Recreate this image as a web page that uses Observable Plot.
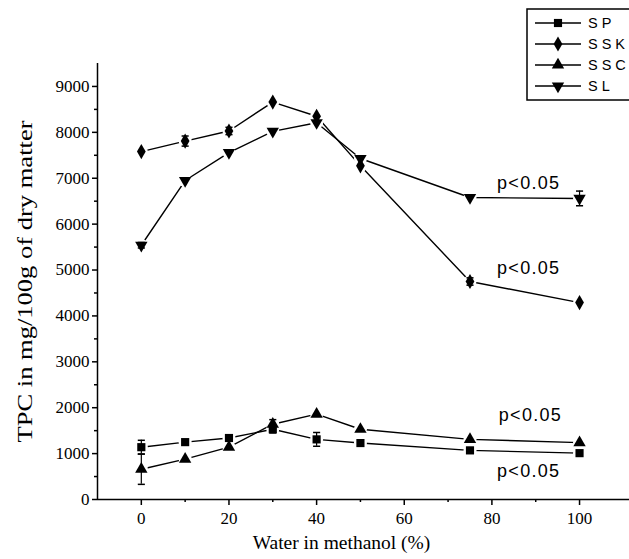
<!DOCTYPE html>
<html><head><meta charset="utf-8">
<script src="https://cdn.jsdelivr.net/npm/d3@7"></script>
<script src="https://cdn.jsdelivr.net/npm/@observablehq/plot@0.6"></script>
<style>body{margin:0;background:#fff;} #chart{position:relative;width:629px;height:559px;}
svg g[aria-label*="axis"], svg g[aria-label*="axis"] text, svg g.tick text { font-family: "Liberation Serif", "Times New Roman", serif !important; font-size: 17px !important; font-variant: normal !important; }
</style>
</head><body><div id="chart"></div>
<script>
const water = [0, 10, 20, 30, 40, 50, 75, 100];
const SP  = [1140, 1250, 1340, 1530, 1310, 1230, 1070, 1010];
const SSK = [7580, 7810, 8030, 8660, 8350, 7270, 4750, 4290];
const SSC = [660, 880, 1140, 1640, 1860, 1530, 1310, 1240];
const SL  = [5540, 6950, 7560, 8020, 8210, 7430, 6580, 6560];
const SP_err  = [150, 0, 60, 80, 150, 0, 60, 0];
const SSK_err = [0, 110, 80, 0, 0, 0, 80, 0];
const SSC_err = [330, 0, 0, 100, 0, 0, 0, 0];
const SL_err  = [60, 0, 0, 0, 0, 0, 0, 160];
const seriesNames = ["SP", "SSK", "SSC", "SL"];
const xTicks = [0, 20, 40, 60, 80, 100];
const xMinor = [10, 30, 50, 70, 90];
const yTicks = [0, 1000, 2000, 3000, 4000, 5000, 6000, 7000, 8000, 9000];
const yMinor = [500, 1500, 2500, 3500, 4500, 5500, 6500, 7500, 8500];
const pLabels = [
  {x: 88.4, y: 6900, text: "p<0.05"},
  {x: 88.4, y: 5030, text: "p<0.05"},
  {x: 88.8, y: 1830, text: "p<0.05"},
  {x: 88.4, y: 620, text: "p<0.05"}
];
const yLabel = "TPC in mg/100g of dry matter";
const xLabel = "Water in methanol (%)";

const symbols = {SP: "square", SSK: "diamond", SSC: "triangle", SL: "triangle"};
const rotations = {SP: 0, SSK: 0, SSC: 0, SL: 180};
const values = {SP, SSK, SSC, SL};
const errs = {SP: SP_err, SSK: SSK_err, SSC: SSC_err, SL: SL_err};
const rows = [];
for (const s of seriesNames) water.forEach((w, i) => rows.push({series: s, x: w, y: values[s][i], e: errs[s][i]}));
const errRows = rows.filter(d => d.e > 0);
const capRows = errRows.flatMap(d => [{...d, yc: d.y + d.e}, {...d, yc: d.y - d.e}]);

const hline = {draw(ctx, size) { const w = Math.sqrt(size) / 2; ctx.moveTo(-w, 0); ctx.lineTo(w, 0); }};

const marks = [
  Plot.ruleX([-10], {strokeWidth: 1.5}),
  Plot.ruleY([0], {strokeWidth: 1.5}),
  Plot.axisY({ticks: yTicks, tickSize: 5, tickPadding: 3, tickFormat: d => String(d), label: null, strokeWidth: 1.5}),
  Plot.axisY({ticks: yMinor, tickSize: 3, tickFormat: () => "", label: null, strokeWidth: 1.5}),
  Plot.axisX({ticks: xTicks, tickSize: 6, tickPadding: 6, tickFormat: d => String(d), label: null, strokeWidth: 1.5}),
  Plot.axisX({ticks: xMinor, tickSize: 3, tickFormat: () => "", label: null, strokeWidth: 1.5}),
  Plot.text([yLabel], {frameAnchor: "left", rotate: -90, dx: -72, fontSize: 20, className: "ylab"}),
  Plot.text([xLabel], {frameAnchor: "bottom", dy: 49, dx: -22, fontSize: 19.5}),
  Plot.line(rows, {x: "x", y: "y", z: "series", stroke: "black", strokeWidth: 1.4}),
  Plot.dot(rows, {x: "x", y: "y", r: 6.5, fill: "white", stroke: "none"}),
  Plot.ruleX(errRows, {x: "x", y1: d => d.y - d.e, y2: d => d.y + d.e, stroke: "black", strokeWidth: 1.2}),
  Plot.dot(capRows, {x: "x", y: "yc", symbol: hline, r: 4, stroke: "black", strokeWidth: 1.5, fill: "none"})
];
for (const s of seriesNames) {
  marks.push(Plot.dot(rows.filter(d => d.series === s), {x: "x", y: "y", symbol: symbols[s], rotate: rotations[s], r: 4.6, fill: "black", stroke: "none"}));
}
marks.push(Plot.text(pLabels, {x: "x", y: "y", text: "text", fontFamily: "Liberation Sans, Arial, sans-serif", fontSize: 18, className: "plab"}));

const plot = Plot.plot({
  width: 629, height: 559,
  marginLeft: 97, marginRight: 0, marginTop: 63, marginBottom: 60,
  x: {domain: [-10, 111.4]},
  y: {domain: [0, 9500]},
  style: {fontFamily: "Liberation Serif, 'Times New Roman', serif", fontSize: "16px", color: "black", background: "white", overflow: "visible"},
  marks
});
document.getElementById("chart").appendChild(plot);

const svg = d3.select(plot);
svg.selectAll("g.ylab text").attr("text-anchor", "start").attr("x", -161)
  .attr("textLength", 322).attr("lengthAdjust", "spacingAndGlyphs");
svg.selectAll("g.plab text").attr("letter-spacing", "1.3px");

// Legend
const lg = svg.append("g").attr("text-anchor", "start");
lg.append("rect").attr("x", 527).attr("y", 9).attr("width", 120).attr("height", 91)
  .attr("fill", "white").attr("stroke", "black").attr("stroke-width", 1.5);
const symMap = {square: d3.symbolSquare, diamond: d3.symbolDiamond, triangle: d3.symbolTriangle};
seriesNames.forEach((s, i) => {
  const yy = 23 + i * 21;
  lg.append("line").attr("x1", 535).attr("x2", 581).attr("y1", yy).attr("y2", yy).attr("stroke", "black").attr("stroke-width", 1.5);
  lg.append("path").attr("d", d3.symbol(symMap[symbols[s]], Math.PI * 4.6 * 4.6)())
    .attr("transform", `translate(558,${yy}) rotate(${rotations[s]})`).attr("fill", "black");
  lg.append("text").attr("x", 588).attr("y", yy).attr("dy", "0.36em").text(s)
    .attr("letter-spacing", "4px")
    .attr("font-family", "Liberation Sans, Arial, sans-serif").attr("font-size", 14.5).attr("fill", "black");
});
</script></body></html>
